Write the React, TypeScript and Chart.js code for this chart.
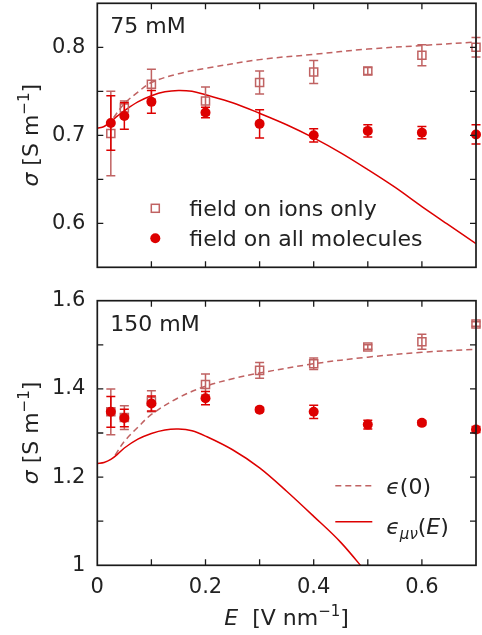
import React, { useEffect, useRef } from "react";
import { Chart, registerables } from "chart.js";

Chart.register(...registerables);

const FONT = '"DejaVu Sans", "Noto Sans", sans-serif';
const WEIGHT = "400";
const TEXT = "#222222";
const AXIS = "#1a1a1a";
const ROSE = "#c06262";
const RED = "#dd0000";

// Field strength of the simulation points (V/nm)
const E_FIELD = [0.025, 0.05, 0.1, 0.2, 0.3, 0.4, 0.5, 0.6, 0.7];

// 75 mM panel
const IONS_75 = [0.702, 0.731, 0.758, 0.739, 0.76, 0.772, 0.773, 0.791, 0.8];
const IONS_75_ERR = [0.048, 0.008, 0.017, 0.016, 0.013, 0.013, 0.004, 0.012, 0.011];
const ALL_75 = [0.714, 0.722, 0.738, 0.726, 0.713, 0.7, 0.705, 0.703, 0.701];
const ALL_75_ERR = [0.031, 0.015, 0.013, 0.006, 0.016, 0.0075, 0.007, 0.007, 0.011];
const EPS0_E_75 = [0.03, 0.05, 0.075, 0.1, 0.15, 0.2, 0.3, 0.4, 0.5, 0.6, 0.7];
const EPS0_75 = [0.72, 0.736, 0.749, 0.76, 0.77, 0.776, 0.786, 0.792, 0.798, 0.802, 0.806];
const EPSE_E_75 = [0, 0.0125, 0.025, 0.0375, 0.05, 0.075, 0.1, 0.125, 0.15, 0.175, 0.2, 0.25, 0.3, 0.35, 0.4, 0.45, 0.5, 0.55, 0.6, 0.65, 0.7];
const EPSE_75 = [0.708, 0.71, 0.7155, 0.722, 0.728, 0.738, 0.745, 0.7495, 0.751, 0.75, 0.746, 0.737, 0.725, 0.712, 0.697, 0.68, 0.661, 0.641, 0.619, 0.598, 0.577];

// 150 mM panel
const IONS_150 = [1.348, 1.335, 1.372, 1.41, 1.442, 1.457, 1.495, 1.507, 1.547];
const IONS_150_ERR = [0.052, 0.027, 0.024, 0.024, 0.018, 0.013, 0.005, 0.017, 0.005];
const ALL_150 = [1.348, 1.334, 1.367, 1.379, 1.353, 1.348, 1.319, 1.323, 1.308];
const ALL_150_ERR = [0.035, 0.02, 0.017, 0.015, 0.005, 0.015, 0.01, 0.005, 0.007];
const EPS0_E_150 = [0.033, 0.05, 0.075, 0.1, 0.15, 0.2, 0.25, 0.3, 0.4, 0.5, 0.6, 0.7];
const EPS0_150 = [1.25, 1.281, 1.313, 1.342, 1.38, 1.406, 1.423, 1.436, 1.457, 1.472, 1.483, 1.49];
const EPSE_E_150 = [0, 0.0125, 0.025, 0.0375, 0.05, 0.075, 0.1, 0.125, 0.15, 0.175, 0.2, 0.25, 0.3, 0.35, 0.4, 0.45, 0.5];
const EPSE_150 = [1.231, 1.233, 1.24, 1.252, 1.266, 1.286, 1.299, 1.307, 1.309, 1.305, 1.293, 1.262, 1.221, 1.168, 1.111, 1.052, 0.98];

const LEGEND_IONS = "field on ions only";
const LEGEND_ALL = "field on all molecules";
const LABEL_75 = "75 mM";
const LABEL_150 = "150 mM";

type Part = { t: string; italic?: boolean; size?: number; dy?: number };

function setFont(ctx: CanvasRenderingContext2D, p: Part) {
  ctx.font = `${p.italic ? "italic " : ""}${WEIGHT} ${p.size ?? 22}px ${FONT}`;
}
function drawRich(ctx: CanvasRenderingContext2D, parts: Part[], x: number, y: number, align: "left" | "center") {
  let w = 0;
  for (const p of parts) { setFont(ctx, p); w += ctx.measureText(p.t).width; }
  let cx = align === "center" ? x - w / 2 : x;
  ctx.textAlign = "left";
  ctx.textBaseline = "alphabetic";
  ctx.fillStyle = TEXT;
  for (const p of parts) {
    setFont(ctx, p);
    ctx.fillText(p.t, cx, y + (p.dy ?? 0));
    cx += ctx.measureText(p.t).width;
  }
}

const Y_TITLE: Part[] = [{ t: "σ", italic: true }, { t: " [S m" }, { t: "−1", size: 15, dy: -9 }, { t: "]" }];
const X_TITLE: Part[] = [{ t: "E", italic: true }, { t: "  [V nm" }, { t: "−1", size: 15, dy: -9 }, { t: "]" }];
const EPS0_LABEL: Part[] = [{ t: "ϵ", italic: true }, { t: "(0)" }];
const EPSE_LABEL: Part[] = [{ t: "ϵ", italic: true }, { t: "μν", italic: true, size: 15, dy: 5 }, { t: "(" }, { t: "E", italic: true }, { t: ")" }];

const fmt = (v: number) => {
  const r = Math.round(v * 1000) / 1000;
  return Number.isInteger(r) ? String(r) : r.toFixed(1);
};
const majorOnly = (step: number) => (v: any) => {
  const q = Number(v) / step;
  return Math.abs(q - Math.round(q)) < 1e-6 ? fmt(Number(v)) : "";
};

const pts = (xs: number[], ys: number[]) => xs.map((x, i) => ({ x, y: ys[i] }));

const errorBarPlugin = {
  id: "errbars",
  beforeDatasetDraw(chart: any, args: any) {
    const ds = chart.data.datasets[args.index];
    if (!ds.errors) return;
    const ctx = chart.ctx;
    const ys = chart.scales.y;
    ctx.save();
    ctx.strokeStyle = ds.borderColor;
    ctx.lineWidth = 1.5;
    args.meta.data.forEach((pt: any, i: number) => {
      const v = ds.data[i].y;
      const e = ds.errors[i];
      const y1 = ys.getPixelForValue(v + e);
      const y2 = ys.getPixelForValue(v - e);
      const x = pt.x;
      ctx.beginPath();
      ctx.moveTo(x, y1); ctx.lineTo(x, y2);
      ctx.moveTo(x - 4.5, y1); ctx.lineTo(x + 4.5, y1);
      ctx.moveTo(x - 4.5, y2); ctx.lineTo(x + 4.5, y2);
      ctx.stroke();
    });
    ctx.restore();
  },
};

const framePlugin = {
  id: "frame",
  afterDatasetsDraw(chart: any) {
    const { ctx, chartArea: a, scales } = chart;
    ctx.save();
    ctx.strokeStyle = AXIS;
    ctx.lineWidth = 1.3;
    ctx.beginPath();
    for (const t of scales.x.ticks) {
      const px = scales.x.getPixelForValue(t.value);
      if (px <= a.left + 1 || px >= a.right - 1) continue;
      ctx.moveTo(px, a.bottom); ctx.lineTo(px, a.bottom - 6);
      ctx.moveTo(px, a.top); ctx.lineTo(px, a.top + 6);
    }
    for (const t of scales.y.ticks) {
      const py = scales.y.getPixelForValue(t.value);
      if (py <= a.top + 1 || py >= a.bottom - 1) continue;
      ctx.moveTo(a.left, py); ctx.lineTo(a.left + 6, py);
      ctx.moveTo(a.right, py); ctx.lineTo(a.right - 6, py);
    }
    ctx.stroke();
    ctx.lineWidth = 1.7;
    ctx.strokeRect(a.left, a.top, a.right - a.left, a.bottom - a.top);
    ctx.restore();
  },
};

function makeTextPlugin(kind: "top" | "bottom") {
  return {
    id: "texts",
    afterDraw(chart: any) {
      const { ctx, chartArea: a } = chart;
      ctx.save();
      // y title
      ctx.save();
      ctx.translate(a.left - 59, (a.top + a.bottom) / 2);
      ctx.rotate(-Math.PI / 2);
      drawRich(ctx, Y_TITLE, 0, 0, "center");
      ctx.restore();
      // panel label
      drawRich(ctx, [{ t: kind === "top" ? LABEL_75 : LABEL_150 }], a.left + 13, a.top + 30, "left");
      if (kind === "top") {
        // marker legend
        const lx = a.left + 58;
        const y1 = a.top + 205;
        const y2 = a.top + 235;
        ctx.strokeStyle = ROSE;
        ctx.lineWidth = 1.5;
        ctx.strokeRect(lx - 4, y1 - 4, 8, 8);
        ctx.fillStyle = RED;
        ctx.beginPath();
        ctx.arc(lx, y2, 5, 0, Math.PI * 2);
        ctx.fill();
        drawRich(ctx, [{ t: LEGEND_IONS }], lx + 34, y1 + 8, "left");
        drawRich(ctx, [{ t: LEGEND_ALL }], lx + 34, y2 + 8, "left");
      } else {
        // line legend
        const x0 = a.left + 238;
        const x1 = a.left + 275;
        const y1 = a.top + 185;
        const y2 = a.top + 221;
        ctx.lineWidth = 1.5;
        ctx.strokeStyle = ROSE;
        ctx.setLineDash([6, 4]);
        ctx.beginPath(); ctx.moveTo(x0, y1); ctx.lineTo(x1, y1); ctx.stroke();
        ctx.setLineDash([]);
        ctx.strokeStyle = RED;
        ctx.beginPath(); ctx.moveTo(x0, y2); ctx.lineTo(x1, y2); ctx.stroke();
        drawRich(ctx, EPS0_LABEL, x1 + 14, y1 + 8, "left");
        drawRich(ctx, EPSE_LABEL, x1 + 14, y2 + 12, "left");
        // x title
        drawRich(ctx, X_TITLE, (a.left + a.right) / 2, a.bottom + 60, "center");
      }
      ctx.restore();
    },
  };
}

type PanelCfg = {
  kind: "top" | "bottom";
  ions: number[]; ionsErr: number[]; all: number[]; allErr: number[];
  eps0E: number[]; eps0: number[]; epsEE: number[]; epsE: number[];
  yMin: number; yMax: number; yStep: number; yMajor: number;
  padTop: number; xHeight: number;
};

function makeConfig(c: PanelCfg): any {
  return {
    type: "scatter",
    data: {
      datasets: [
        {
          label: "field on all molecules",
          data: pts(E_FIELD, c.all),
          errors: c.allErr,
          pointStyle: "circle",
          pointRadius: 5,
          backgroundColor: RED,
          borderColor: RED,
          borderWidth: 0,
          showLine: false,
          clip: false,
          order: 0,
        },
        {
          label: "field on ions only",
          data: pts(E_FIELD, c.ions),
          errors: c.ionsErr,
          pointStyle: "rect",
          pointRadius: 5.7,
          backgroundColor: "rgba(0,0,0,0)",
          borderColor: ROSE,
          borderWidth: 1.5,
          showLine: false,
          clip: false,
          order: 1,
        },
        {
          label: "eps_munu(E)",
          data: pts(c.epsEE, c.epsE),
          showLine: true,
          pointRadius: 0,
          borderColor: RED,
          borderWidth: 1.5,
          tension: 0.35,
          order: 2,
        },
        {
          label: "eps(0)",
          data: pts(c.eps0E, c.eps0),
          showLine: true,
          pointRadius: 0,
          borderColor: ROSE,
          borderWidth: 1.5,
          borderDash: [6, 4],
          tension: 0.35,
          order: 3,
        },
      ],
    },
    options: {
      responsive: false,
      animation: false,
      events: [],
      layout: { autoPadding: false, padding: { left: 0, right: 6, top: c.padTop, bottom: 0 } },
      plugins: { legend: { display: false }, tooltip: { enabled: false } },
      scales: {
        x: {
          type: "linear",
          min: 0,
          max: 0.7,
          grid: { display: false, drawTicks: false },
          border: { display: false },
          afterFit: (s: any) => {
            s.height = c.xHeight;
            s.paddingLeft = 0; s.paddingRight = 0; s.paddingTop = 0; s.paddingBottom = 0;
          },
          ticks: {
            display: c.kind === "bottom",
            stepSize: 0.1,
            autoSkip: false,
            maxRotation: 0,
            padding: 10,
            color: TEXT,
            font: { family: FONT, size: 21, weight: WEIGHT },
            callback: majorOnly(0.2),
          },
        },
        y: {
          type: "linear",
          min: c.yMin,
          max: c.yMax,
          grid: { display: false, drawTicks: false },
          border: { display: false },
          afterFit: (s: any) => {
            s.width = 97.3;
            s.paddingLeft = 0; s.paddingRight = 0; s.paddingTop = 0; s.paddingBottom = 0;
          },
          ticks: {
            stepSize: c.yStep,
            autoSkip: false,
            padding: 12,
            color: TEXT,
            font: { family: FONT, size: 21, weight: WEIGHT },
            callback: majorOnly(c.yMajor),
          },
        },
      },
    },
    plugins: [errorBarPlugin, framePlugin, makeTextPlugin(c.kind)],
  };
}

export default function App() {
  const topRef = useRef<HTMLCanvasElement | null>(null);
  const botRef = useRef<HTMLCanvasElement | null>(null);

  useEffect(() => {
    if (!topRef.current || !botRef.current) return;
    const c1 = new Chart(topRef.current, makeConfig({
      kind: "top",
      ions: IONS_75, ionsErr: IONS_75_ERR, all: ALL_75, allErr: ALL_75_ERR,
      eps0E: EPS0_E_75, eps0: EPS0_75, epsEE: EPSE_E_75, epsE: EPSE_75,
      yMin: 0.55, yMax: 0.85, yStep: 0.05, yMajor: 0.1,
      padTop: 3.3, xHeight: 22.7,
    }));
    const c2 = new Chart(botRef.current, makeConfig({
      kind: "bottom",
      ions: IONS_150, ionsErr: IONS_150_ERR, all: ALL_150, allErr: ALL_150_ERR,
      eps0E: EPS0_E_150, eps0: EPS0_150, epsEE: EPSE_E_150, epsE: EPSE_150,
      yMin: 1.0, yMax: 1.6, yStep: 0.1, yMajor: 0.2,
      padTop: 10.7, xHeight: 69.7,
    }));
    return () => { c1.destroy(); c2.destroy(); };
  }, []);

  return (
    <div style={{ position: "absolute", left: 0, top: 0, width: 482, height: 635, background: "#ffffff" }}>
      <canvas ref={topRef} width={482} height={290} style={{ position: "absolute", left: 0, top: 0, width: 482, height: 290 }} />
      <canvas ref={botRef} width={482} height={345} style={{ position: "absolute", left: 0, top: 290, width: 482, height: 345 }} />
    </div>
  );
}
